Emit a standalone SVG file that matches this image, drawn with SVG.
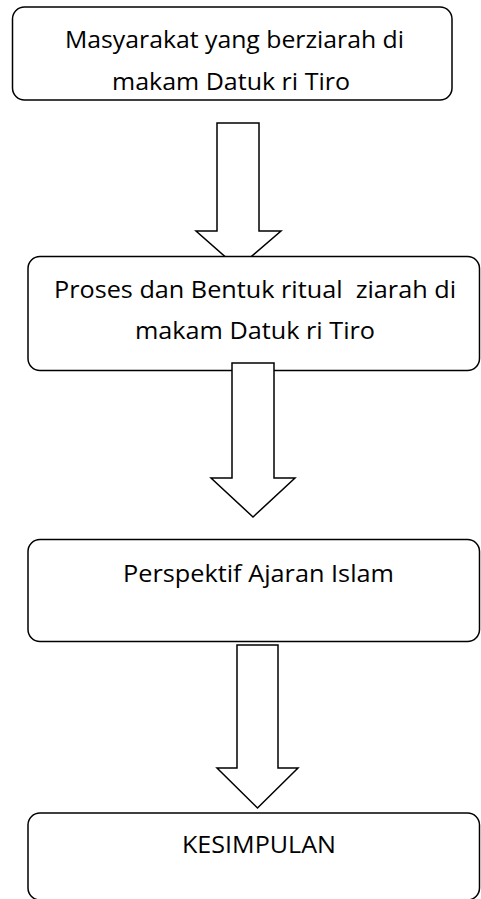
<svg xmlns="http://www.w3.org/2000/svg" width="481" height="899" viewBox="0 0 481 899">
<style>
.box{fill:#fff;stroke:#000;stroke-width:1.5}
.arr{fill:#fff;stroke:#000;stroke-width:1.5;stroke-linejoin:miter}
.t{font-family:"Open Sans","Noto Sans","Liberation Sans",sans-serif;font-size:23px;fill:#000;white-space:pre}
</style>
<rect width="481" height="899" fill="#fff"/>
<g id="connectors">
<polygon id="arrow1" class="arr" points="217,123 259,123 259,231 281,231 238,268 196,231 217,231"/>
</g>
<g id="node1">
<rect class="box" x="12.5" y="7" width="439.5" height="93" rx="12"/>
<text class="t" x="65" y="48" textLength="339" lengthAdjust="spacingAndGlyphs">Masyarakat yang berziarah di</text>
<text class="t" x="112" y="90" textLength="238" lengthAdjust="spacingAndGlyphs">makam Datuk ri Tiro</text>
</g>
<g id="node2">
<rect class="box" x="28" y="256.5" width="451.5" height="114" rx="12"/>
<text class="t" x="54" y="298" textLength="402" lengthAdjust="spacingAndGlyphs" xml:space="preserve">Proses dan Bentuk ritual  ziarah di</text>
<text class="t" x="135" y="339" textLength="240" lengthAdjust="spacingAndGlyphs">makam Datuk ri Tiro</text>
</g>
<g id="connectors2">
<polygon id="arrow2" class="arr" points="232,363 274,363 274,478 295,478 253,517 211,478 232,478"/>
<polygon id="arrow3" class="arr" points="237,645 278,645 278,768 298,768 257.5,808 217,768 237,768"/>
</g>
<g id="node3">
<rect class="box" x="28" y="539.5" width="451.5" height="102" rx="12"/>
<text class="t" x="123" y="582" textLength="271" lengthAdjust="spacingAndGlyphs">Perspektif Ajaran Islam</text>
</g>
<g id="node4">
<rect class="box" x="28" y="813" width="451.5" height="87" rx="12"/>
<text class="t" x="182" y="853" textLength="154" lengthAdjust="spacingAndGlyphs">KESIMPULAN</text>
</g>
</svg>
